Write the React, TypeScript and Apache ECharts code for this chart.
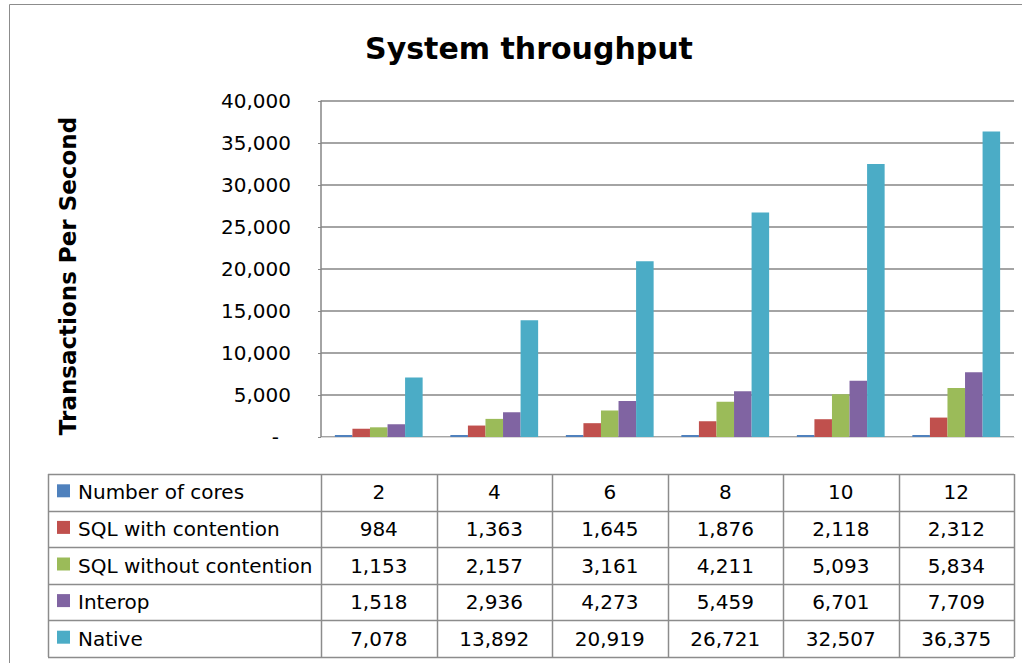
import React, { useEffect, useRef } from "react";
import * as echarts from "echarts";

const categories = ["2", "4", "6", "8", "10", "12"];
const seriesNames = ["Number of cores", "SQL with contention", "SQL without contention", "Interop", "Native"];
const numberOfCores = [2, 4, 6, 8, 10, 12];
const sqlWithContention = [984, 1363, 1645, 1876, 2118, 2312];
const sqlWithoutContention = [1153, 2157, 3161, 4211, 5093, 5834];
const interop = [1518, 2936, 4273, 5459, 6701, 7709];
const native = [7078, 13892, 20919, 26721, 32507, 36375];
const yTicks = [0, 5000, 10000, 15000, 20000, 25000, 30000, 35000, 40000];

const seriesData = [numberOfCores, sqlWithContention, sqlWithoutContention, interop, native];
const colors = ["#4F81BD", "#C0504D", "#9BBB59", "#8064A2", "#4BACC6"];

const FONT = "'DejaVu Sans', sans-serif";
const W = 1022;
const H = 663;
const GRID_LEFT = 321;
const GRID_RIGHT = 1014;
const GRID_TOP = 101;
const GRID_BOTTOM = 437;
const TABLE_TOP = 474;
const TABLE_BOTTOM = 657;
const TABLE_LEFT = 48;

const fmt = (v: number) => v.toLocaleString("en-US");

export default function App() {
  const ref = useRef<HTMLDivElement>(null);
  useEffect(() => {
    if (!ref.current) return;
    const chart = echarts.init(ref.current, null, { renderer: "svg" });
    const colW = (GRID_RIGHT - GRID_LEFT) / categories.length;
    const rowH = (TABLE_BOTTOM - TABLE_TOP) / seriesNames.length;
    const graphics: any[] = [];
    graphics.push({
      type: "rect",
      shape: { x: 9.5, y: 4.5, width: W + 20, height: H + 20 },
      style: { fill: "none", stroke: "#8c8c8c", lineWidth: 1 },
      silent: true,
    });
    for (let r = 0; r <= seriesNames.length; r++) {
      const y = Math.round(TABLE_TOP + r * rowH) + 0.5;
      graphics.push({
        type: "line",
        shape: { x1: TABLE_LEFT, y1: y, x2: GRID_RIGHT, y2: y },
        style: { stroke: "#8c8c8c", lineWidth: 1.5 },
      });
    }
    const vx = [TABLE_LEFT];
    for (let c = 0; c <= categories.length; c++) vx.push(GRID_LEFT + c * colW);
    vx.forEach((x) => {
      graphics.push({
        type: "line",
        shape: { x1: Math.round(x) + 0.5, y1: TABLE_TOP, x2: Math.round(x) + 0.5, y2: TABLE_BOTTOM },
        style: { stroke: "#8c8c8c", lineWidth: 1.5 },
      });
    });
    seriesNames.forEach((name, r) => {
      const cy = TABLE_TOP + (r + 0.5) * rowH;
      graphics.push({
        type: "rect",
        shape: { x: 57, y: cy - 8, width: 13, height: 13 },
        style: { fill: colors[r] },
      });
      graphics.push({
        type: "text",
        x: 78,
        y: cy,
        style: { text: name, font: `20px ${FONT}`, fill: "#000", textVerticalAlign: "middle", textAlign: "left" },
      });
      seriesData[r].forEach((v, c) => {
        graphics.push({
          type: "text",
          x: GRID_LEFT + (c + 0.5) * colW,
          y: cy,
          style: { text: fmt(v), font: `20px ${FONT}`, fill: "#000", textVerticalAlign: "middle", textAlign: "center" },
        });
      });
    });

    chart.setOption({
      animation: false,
      backgroundColor: "#fff",
      title: {
        text: "System throughput",
        left: 524,
        top: 28,
        textAlign: "center",
        textStyle: { fontFamily: FONT, fontWeight: "bold", fontSize: 30, color: "#000" },
      },
      grid: { left: GRID_LEFT, right: W - GRID_RIGHT, top: GRID_TOP, bottom: H - GRID_BOTTOM },
      xAxis: {
        type: "category",
        data: categories,
        axisLine: { show: true, lineStyle: { color: "#d9d9d9", width: 1 } },
        axisTick: { show: false },
        axisLabel: { show: false },
      },
      yAxis: {
        type: "value",
        min: 0,
        max: 40000,
        interval: 5000,
        name: "Transactions Per Second",
        nameLocation: "middle",
        nameGap: 242,
        nameRotate: 90,
        nameTextStyle: { fontFamily: FONT, fontWeight: "bold", fontSize: 23, color: "#000", padding: [0, 14, 0, 0] },
        axisLine: { show: true, lineStyle: { color: "#868686", width: 1.5 } },
        axisTick: { show: true, length: 3, lineStyle: { color: "#868686" } },
        splitLine: { show: true, lineStyle: { color: "#868686", width: 1.5 } },
        axisLabel: {
          fontFamily: FONT,
          fontSize: 20,
          color: "#000",
          margin: 30,
          formatter: (v: number) => (v === 0 ? "{d|-}" : fmt(v)),
          rich: { d: { fontFamily: FONT, fontSize: 20, color: "#000", padding: [0, 12, 0, 0] } },
        },
      },
      series: seriesNames.map((name, i) => ({
        name,
        type: "bar",
        data: seriesData[i],
        barGap: "0%",
        barCategoryGap: "24%",
        barMinHeight: i === 0 ? 2 : 0,
        itemStyle: { color: colors[i] },
      })),
      graphic: graphics,
    });
    return () => chart.dispose();
  }, []);
  return <div ref={ref} style={{ position: "absolute", left: 0, top: 0, width: W, height: H }} />;
}
